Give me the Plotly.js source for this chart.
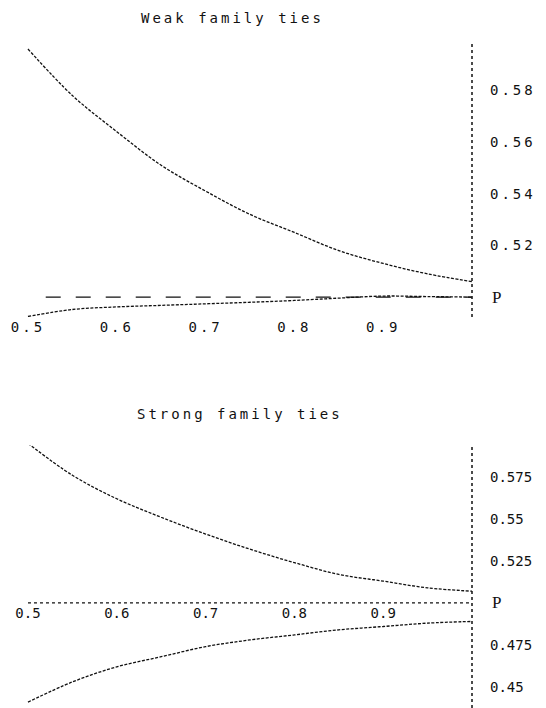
<!DOCTYPE html>
<html>
<head>
<meta charset="utf-8">
<script src="https://cdn.plot.ly/plotly-3.0.1.min.js"></script>
<style>
  html, body { margin: 0; padding: 0; background: #fff; }
  #chart { width: 546px; height: 708px; }
  .xtick text, .ytick text { letter-spacing: 3px; }
  .annotation-text { letter-spacing: 3px; }
</style>
</head>
<body>
<div id="chart"></div>
<script>
// ---- data ----
const pValues = [0.5, 0.55, 0.6, 0.65, 0.7, 0.75, 0.8, 0.85, 0.9, 0.95, 1.0];

const weakUpper = [0.596, 0.578, 0.564, 0.551, 0.541, 0.532, 0.525, 0.518, 0.513, 0.509, 0.506];
const weakLower = [0.4925, 0.4952, 0.4962, 0.4968, 0.4974, 0.498, 0.4987, 0.4996, 0.5004, 0.5002, 0.5];

const strongUpper = [0.595, 0.576, 0.562, 0.551, 0.541, 0.532, 0.524, 0.517, 0.513, 0.509, 0.507];
const strongLower = [0.441, 0.453, 0.462, 0.468, 0.474, 0.478, 0.481, 0.484, 0.486, 0.488, 0.489];

const xTickVals = [0.5, 0.6, 0.7, 0.8, 0.9];
const xTickText = ["0.5", "0.6", "0.7", "0.8", "0.9"];
const weakYTickVals = [0.58, 0.56, 0.54, 0.52];
const weakYTickText = ["0.58", "0.56", "0.54", "0.52"];
const strongYTickVals = [0.575, 0.55, 0.525, 0.475, 0.45];
const strongYTickText = ["0.575", "0.55", "0.525", "0.475", "0.45"];

const titles = ["Weak family ties", "Strong family ties"];
const axisLabel = "P";
const axisOrigin = { x: 1.0, y: 0.5 };

// ---- styling ----
const ink = "#111";
const monoFont = { family: "DejaVu Sans Mono, Liberation Mono, monospace", size: 14, color: ink };
const curveLine = { color: ink, width: 1.3, dash: "3px,1.5px", shape: "spline" };

const W = 546, H = 708;
const xRange = [0.4685, 1.00225];

const traces = [
  { x: pValues, y: weakUpper, xaxis: "x", yaxis: "y", mode: "lines", line: curveLine, hoverinfo: "skip" },
  { x: pValues, y: weakLower, xaxis: "x", yaxis: "y", mode: "lines", line: curveLine, hoverinfo: "skip" },
  { x: pValues, y: strongUpper, xaxis: "x2", yaxis: "y2", mode: "lines", line: curveLine, hoverinfo: "skip" },
  { x: pValues, y: strongLower, xaxis: "x2", yaxis: "y2", mode: "lines", line: curveLine, hoverinfo: "skip" }
];

const commonX = {
  range: xRange, showgrid: false, zeroline: false, showline: false,
  ticks: "", tickvals: xTickVals, ticktext: xTickText, tickfont: monoFont, fixedrange: true
};
const commonY = {
  side: "right", showgrid: false, zeroline: false, showline: false,
  ticks: "", tickfont: monoFont, ticklabelstandoff: 15, fixedrange: true
};

const layout = {
  width: W, height: H,
  margin: { l: 0, r: 72, t: 0, b: 0 },
  paper_bgcolor: "#fff", plot_bgcolor: "#fff",
  showlegend: false,
  xaxis: Object.assign({}, commonX, { domain: [0, 1], anchor: "y" }),
  yaxis: Object.assign({}, commonY, {
    domain: [1 - 317 / H, 1 - 43 / H], anchor: "x",
    range: [0.4923, 0.5983], tickvals: weakYTickVals, ticktext: weakYTickText
  }),
  xaxis2: Object.assign({}, commonX, { domain: [0, 1], anchor: "free", position: (H - 603) / H }),
  yaxis2: Object.assign({}, commonY, {
    domain: [0, 1 - 445 / H], anchor: "x2",
    range: [0.4375, 0.594], tickvals: strongYTickVals, ticktext: strongYTickText
  }),
  shapes: [
    // vertical (P-value) axes, dotted
    { type: "line", xref: "x", yref: "y domain", x0: axisOrigin.x, x1: axisOrigin.x, y0: 0, y1: 1,
      line: { color: ink, width: 1.5, dash: "dot" } },
    { type: "line", xref: "x2", yref: "y2 domain", x0: axisOrigin.x, x1: axisOrigin.x, y0: 0, y1: 1,
      line: { color: ink, width: 1.5, dash: "dot" } },
    // horizontal axes
    { type: "line", xref: "x", yref: "y", x0: 0.52, x1: axisOrigin.x, y0: axisOrigin.y, y1: axisOrigin.y,
      line: { color: ink, width: 1.2, dash: "longdash" } },
    { type: "line", xref: "x2", yref: "y2", x0: 0.5, x1: axisOrigin.x, y0: axisOrigin.y, y1: axisOrigin.y,
      line: { color: ink, width: 1.2, dash: "dot" } }
  ],
  annotations: [
    { text: titles[0], xref: "paper", yref: "paper", x: 232 / 474, y: 1 - 18 / H,
      showarrow: false, xanchor: "center", yanchor: "middle",
      font: { family: monoFont.family, size: 14, color: ink } },
    { text: titles[1], xref: "paper", yref: "paper", x: 240 / 474, y: 1 - 414 / H,
      showarrow: false, xanchor: "center", yanchor: "middle",
      font: { family: monoFont.family, size: 14, color: ink } },
    { text: axisLabel, xref: "x", yref: "y", x: axisOrigin.x, y: axisOrigin.y, xshift: 18,
      showarrow: false, xanchor: "left", yanchor: "middle",
      font: { family: "Liberation Serif, DejaVu Serif, serif", size: 17, color: ink } },
    { text: axisLabel, xref: "x2", yref: "y2", x: axisOrigin.x, y: axisOrigin.y, xshift: 18,
      showarrow: false, xanchor: "left", yanchor: "middle",
      font: { family: "Liberation Serif, DejaVu Serif, serif", size: 17, color: ink } }
  ]
};

Plotly.newPlot("chart", traces, layout, { staticPlot: true, displayModeBar: false });
</script>
</body>
</html>
